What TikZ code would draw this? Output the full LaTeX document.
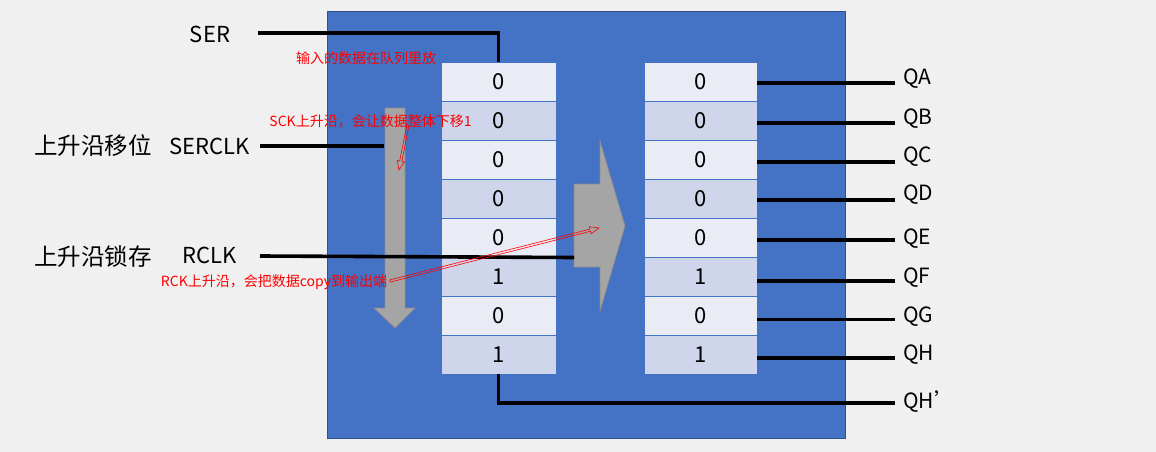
\documentclass[tikz,border=0pt]{standalone}
\usepackage{fontspec}
\setmainfont{Noto Sans CJK SC}
\usetikzlibrary{calc}
\definecolor{bg}{HTML}{F0F0F0}
\definecolor{chipblue}{HTML}{4472C4}
\definecolor{chipedge}{HTML}{2F528F}
\definecolor{celllight}{HTML}{E9EBF5}
\definecolor{celldark}{HTML}{CFD5EA}
\definecolor{arrowgray}{HTML}{A5A5A5}
\definecolor{arrowedge}{HTML}{8C8C8C}
\tikzset{
 cell/.style={minimum height=39pt, inner sep=0pt, draw=chipblue, line width=0.8pt, font=\fontsize{22}{22}\selectfont, text=black},
 lcell/.style={cell, minimum width=115pt},
 rcell/.style={cell, minimum width=113pt},
 pin/.style={line width=3.6pt, draw=black},
 pinlabel/.style={inner sep=0pt, font=\fontsize{22}{22}\selectfont},
 qlabel/.style={inner sep=0pt, anchor=west, font=\fontsize{21}{21}\selectfont},
 cnlabel/.style={inner sep=0pt, font=\fontsize{23.5}{23.5}\selectfont},
 note/.style={inner sep=0pt, text=red, font=\fontsize{14}{14}\selectfont},
 bigarrow/.style={fill=arrowgray, draw=arrowedge, line width=0.8pt},
 hollow/.style={draw=red, line width=0.6pt, line join=miter}
}
\newcommand\hollowarrow[2]{%
 \draw[hollow]
  ($(#1)!1.1pt!90:(#2)$) --
  ($($(#2)!9pt!(#1)$)!1.1pt!90:(#2)$) --
  ($($(#2)!9pt!(#1)$)!3.6pt!90:(#2)$) --
  (#2) --
  ($($(#2)!9pt!(#1)$)!3.6pt!-90:(#2)$) --
  ($($(#2)!9pt!(#1)$)!1.1pt!-90:(#2)$) --
  ($(#1)!1.1pt!-90:(#2)$) -- cycle;}
\begin{document}
\begin{tikzpicture}[x=1pt,y=-1pt]
\fill[bg] (0,0) rectangle (1156,452);
\useasboundingbox (0,0) rectangle (1156,452);
% chip body
\draw[fill=chipblue, draw=chipedge, line width=0.8pt] (327,11) rectangle (845,438);
% shift register cells
\foreach \i/\v in {1/0,2/0,3/0,4/0,5/0,6/1,7/0,8/1}{
  \pgfmathsetmacro{\yy}{81.5+39*(\i-1)}
  \ifodd\i \def\cc{celllight}\else\def\cc{celldark}\fi
  \node[lcell, fill=\cc] (L\i) at (498.5,\yy) {\v};
  \node[rcell, fill=\cc] (R\i) at (700.5,\yy) {\v};
}
% big gray arrows
\draw[bigarrow] (385,108) -- (405,108) -- (405,308) -- (415,308) -- (395,328) -- (374,308) -- (385,308) -- cycle;
\draw[bigarrow] (574,184) -- (600,184) -- (600,141) -- (625,226) -- (600,311) -- (600,267) -- (574,267) -- cycle;
% input labels
\node[pinlabel] (ser) at (210,34) {SER};
\node[pinlabel] (serclk) at (210,146) {SERCLK};
\node[pinlabel] (rclk) at (210,255) {RCLK};
\node[cnlabel] (shiftlbl) at (93,146) {上升沿移位};
\node[cnlabel] (latchlbl) at (93,257) {上升沿锁存};
% input wires
\coordinate (serA) at (258,33);
\coordinate (serB) at (L1.north |- serA);
\draw[pin] (serA) -- (serB) -- (L1.north);
\coordinate (sckA) at (260,146);
\coordinate (sckB) at (384,146);
\draw[pin] (sckA) -- (sckB);
\coordinate (rckA) at (260,256);
\coordinate (rckB) at (574,257.5);
\draw[pin] (rckA) -- (rckB);
% outputs
\foreach \i/\n/\ly/\lt in {1/QA/82.7/79,2/QB/122.7/119,3/QC/161.7/157,4/QD/200/195,5/QE/240/239,6/QF/280.7/278,7/QG/319.3/317,8/QH/357.7/355}{
  \coordinate (out\i) at (895,\ly);
  \draw[pin] (R\i.east |- out\i) -- (out\i);
  \node[qlabel] (lbl\i) at (903,\lt) {\n};
}
\coordinate (qhpA) at (L8.south |- 0,402.7);
\coordinate (qhpB) at (895,402.7);
\draw[pin] (L8.south) -- (qhpA) -- (qhpB);
\node[qlabel] (lblqhp) at (903,402) {QH’};
% red notes
\node[note] (n1) at (366,58) {输入的数据在队列里放};
\node[note] (n2) at (370.5,121) {SCK上升沿，会让数据整体下移1};
\node[note] (n3) at (274,282) {RCK上升沿，会把数据copy到输出端};
\coordinate (a1s) at (408,125);
\coordinate (a1e) at (399,170);
\hollowarrow{a1s}{a1e}
\coordinate (a2s) at (390,281);
\coordinate (a2e) at (599,228);
\hollowarrow{a2s}{a2e}
\end{tikzpicture}
\end{document}
